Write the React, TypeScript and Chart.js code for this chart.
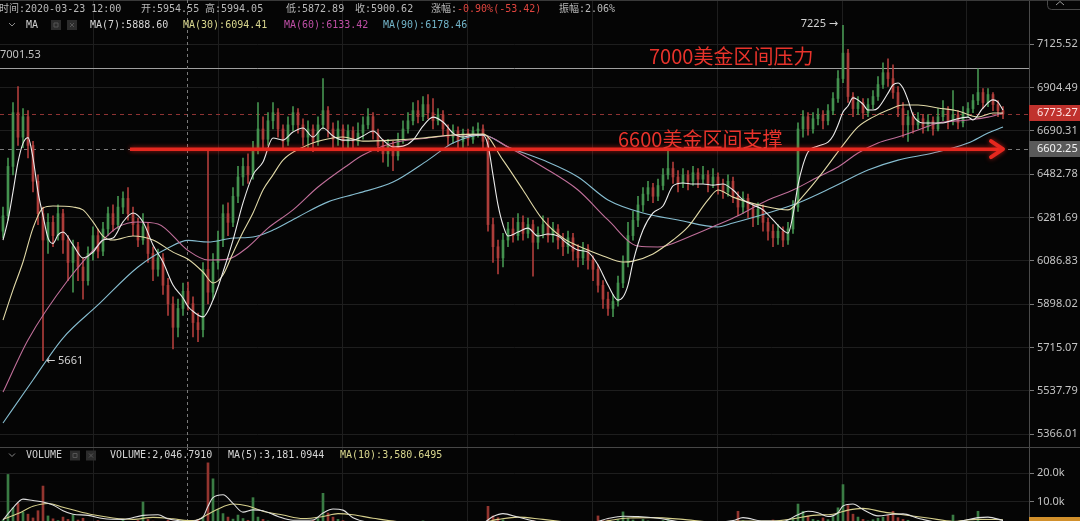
import React, { useEffect, useRef } from 'react';
import { Chart, registerables } from 'chart.js';

Chart.register(...registerables);

// ---------- candles (one entry per bar, left to right) ----------
const opens = [
  6220, 6290, 6520, 6780, 6660, 6760, 6620, 6450, 6300, 6180,
  6260, 6200, 6300, 6180, 6080, 6150, 6060, 6000, 6120, 6200,
  6130, 6230, 6300, 6250, 6330, 6370, 6300, 6250, 6180, 6240,
  6120, 6050, 6100, 5980, 5900, 5800, 5880, 5954.55, 5900.62, 5820,
  5790, 6050, 5950, 6080, 6180, 6300, 6260, 6380, 6470, 6520,
  6480, 6600, 6700, 6650, 6740, 6780, 6700, 6640, 6720, 6780,
  6720, 6660, 6700, 6640, 6720, 6790, 6700, 6650, 6700, 6640,
  6690, 6640, 6680, 6720, 6760, 6680, 6620, 6580, 6620, 6570,
  6650, 6700, 6740, 6790, 6760, 6820, 6780, 6740, 6770, 6700,
  6660, 6690, 6640, 6680, 6650, 6690, 6700, 6640, 6250, 6150,
  6100, 6180, 6230, 6200, 6260, 6210, 6250, 6170, 6210, 6250,
  6200, 6230, 6180, 6150, 6190, 6130, 6100, 6140, 6090, 6050,
  5980, 5920, 5880, 5910, 5990, 6080, 6200, 6270, 6340, 6390,
  6420, 6380, 6430, 6480, 6510, 6470, 6440, 6480, 6450, 6490,
  6460, 6480, 6440, 6470, 6430, 6400, 6450, 6380, 6330, 6370,
  6320, 6280, 6320, 6260, 6220, 6190, 6220, 6180, 6230, 6330,
  6700, 6760, 6700, 6750, 6770, 6740, 6790, 6850, 6950, 7080,
  6860, 6800, 6830, 6780, 6820, 6860, 6920, 6980, 6950, 6880,
  6800, 6720, 6760, 6720, 6750, 6710, 6740, 6700, 6760, 6790,
  6740, 6770, 6730, 6780, 6800, 6840, 6880, 6830, 6870, 6820,
  6790,
];
const highs = [
  6330, 6560, 6830, 6910, 6800, 6790, 6640, 6480, 6330, 6300,
  6290, 6340, 6320, 6200, 6180, 6170, 6100, 6150, 6240, 6230,
  6260, 6330, 6340, 6380, 6400, 6420, 6330, 6280, 6300, 6260,
  6150, 6140, 6120, 6010, 5930, 5920, 5990, 5994.05, 5930, 5860,
  6080, 6600, 6120, 6220, 6340, 6350, 6420, 6520, 6560, 6580,
  6640, 6830, 6760, 6780, 6830, 6800, 6720, 6760, 6810, 6800,
  6750, 6740, 6720, 6760, 6950, 6810, 6730, 6740, 6720, 6720,
  6710, 6730, 6760, 6800, 6780, 6700, 6650, 6650, 6640, 6680,
  6740, 6780, 6830, 6840, 6860, 6870, 6850, 6800, 6790, 6720,
  6720, 6710, 6700, 6700, 6710, 6730, 6720, 6660, 6280, 6180,
  6210, 6260, 6280, 6300, 6290, 6280, 6270, 6240, 6290, 6280,
  6260, 6250, 6210, 6220, 6210, 6160, 6170, 6160, 6110, 6070,
  6000, 5950, 5940, 6020, 6110, 6260, 6310, 6380, 6420, 6450,
  6440, 6460, 6510, 6600, 6540, 6500, 6510, 6500, 6520, 6510,
  6520, 6500, 6510, 6490, 6460, 6480, 6470, 6400, 6400, 6390,
  6340, 6350, 6340, 6280, 6250, 6250, 6240, 6260, 6360, 6730,
  6790, 6780, 6780, 6800, 6790, 6820, 6880, 6990, 7225, 7100,
  6880, 6860, 6850, 6850, 6890, 6960, 7030, 7050, 7020, 6910,
  6830, 6790, 6780, 6780, 6770, 6770, 6760, 6800, 6840, 6810,
  6890, 6790, 6810, 6830, 6870, 7000, 6900, 6900, 6880, 6840,
  6810,
];
const lows = [
  6190, 6270, 6480, 6620, 6610, 6560, 6400, 6250, 5661, 6120,
  6150, 6180, 6120, 6000, 5950, 6000, 5920, 5980, 6090, 6100,
  6110, 6200, 6220, 6230, 6300, 6270, 6200, 6150, 6160, 6080,
  6000, 6020, 5940, 5850, 5710, 5760, 5850, 5872.89, 5760, 5740,
  5760, 5900, 5920, 6050, 6150, 6200, 6240, 6350, 6430, 6440,
  6460, 6580, 6600, 6620, 6700, 6660, 6600, 6620, 6690, 6680,
  6620, 6600, 6590, 6620, 6700, 6660, 6610, 6620, 6600, 6600,
  6610, 6620, 6650, 6700, 6650, 6590, 6540, 6520, 6500, 6550,
  6630, 6680, 6720, 6730, 6740, 6750, 6700, 6720, 6670, 6620,
  6630, 6600, 6610, 6620, 6630, 6660, 6610, 6220, 6080, 6030,
  6060, 6150, 6170, 6180, 6180, 6190, 6020, 6140, 6190, 6170,
  6170, 6140, 6110, 6120, 6090, 6060, 6070, 6050, 6000, 5950,
  5880, 5850, 5845, 5890, 5970, 6060, 6180, 6240, 6310, 6360,
  6350, 6360, 6410, 6460, 6440, 6400, 6420, 6410, 6430, 6420,
  6440, 6400, 6420, 6390, 6370, 6380, 6350, 6290, 6300, 6280,
  6240, 6250, 6220, 6180, 6150, 6160, 6150, 6160, 6210, 6310,
  6660, 6670, 6680, 6720, 6700, 6720, 6770, 6830, 6930, 6830,
  6760, 6770, 6750, 6760, 6800, 6840, 6900, 6910, 6850, 6760,
  6660, 6640, 6680, 6700, 6680, 6690, 6670, 6690, 6740, 6700,
  6720, 6700, 6710, 6760, 6780, 6820, 6800, 6810, 6790, 6760,
  6750,
];
const closes = [
  6290, 6520, 6780, 6660, 6760, 6620, 6450, 6300, 6180, 6260,
  6200, 6300, 6180, 6080, 6150, 6060, 6000, 6120, 6200, 6130,
  6230, 6300, 6250, 6330, 6370, 6300, 6250, 6180, 6240, 6120,
  6050, 6100, 5980, 5900, 5800, 5880, 5954.04, 5900.62, 5820, 5790,
  6050, 5950, 6080, 6180, 6300, 6260, 6380, 6470, 6520, 6480,
  6600, 6700, 6650, 6740, 6780, 6700, 6640, 6720, 6780, 6720,
  6660, 6700, 6640, 6720, 6790, 6700, 6650, 6700, 6640, 6690,
  6640, 6680, 6720, 6760, 6680, 6620, 6580, 6620, 6570, 6650,
  6700, 6740, 6790, 6760, 6820, 6780, 6740, 6770, 6700, 6660,
  6690, 6640, 6680, 6650, 6690, 6700, 6640, 6250, 6150, 6100,
  6180, 6230, 6200, 6260, 6210, 6250, 6170, 6210, 6250, 6200,
  6230, 6180, 6150, 6190, 6130, 6100, 6140, 6090, 6050, 5980,
  5920, 5880, 5910, 5990, 6080, 6200, 6270, 6340, 6390, 6420,
  6380, 6430, 6480, 6510, 6470, 6440, 6480, 6450, 6490, 6460,
  6480, 6440, 6470, 6430, 6400, 6450, 6380, 6330, 6370, 6320,
  6280, 6320, 6260, 6220, 6190, 6220, 6180, 6230, 6330, 6700,
  6760, 6700, 6750, 6770, 6740, 6790, 6850, 6950, 7080, 6860,
  6800, 6830, 6780, 6820, 6860, 6920, 6980, 6950, 6880, 6800,
  6720, 6760, 6720, 6750, 6710, 6740, 6700, 6760, 6790, 6740,
  6770, 6730, 6780, 6800, 6840, 6880, 6830, 6870, 6820, 6790,
  6773.27,
];
const volumes = [
  3800, 19500, 8000, 9500, 6500, 5800, 4500, 7000, 15500, 5200,
  4200, 3600, 4800, 4000, 5600, 3800, 4400, 3200, 2900, 3600,
  3000, 2600, 3300, 2900, 3900, 3100, 2700, 3700, 10000, 4000,
  3400, 2900, 3200, 3800, 3400, 3000, 3700, 2046.791, 3300, 3900,
  4800, 23500, 18000, 7500, 6000, 4800, 4100, 5500, 4300, 3700,
  11500, 4800, 4000, 3500, 3200, 2800, 3400, 2700, 3000, 2800,
  3200, 2600, 3700, 4300, 13000, 6200, 4800, 4000, 3600, 3000,
  2800, 2600, 3000, 2400, 2700, 3200, 2200, 2800, 3400, 2600,
  2400, 2800, 3100, 2700, 3500, 3000, 2700, 2300, 2900, 2500,
  2200, 2700, 2400, 2000, 2300, 2600, 3200, 8500, 5200, 4600,
  3900, 3300, 2800, 3200, 2700, 2900, 3600, 2700, 2500, 2800,
  2400, 2700, 2300, 2600, 2800, 2500, 2200, 2700, 2900, 5200,
  3600, 3800, 3200, 4000, 6600, 4400, 3800, 3300, 4000, 3500,
  3200, 2900, 3600, 4200, 3400, 2800, 2600, 3000, 2700, 2400,
  2800, 2500, 2900, 2600, 2800, 3200, 3000, 6800, 3600, 2900,
  2700, 3100, 2600, 3300, 3800, 2900, 3200, 3500, 4500, 9300,
  6800, 5200, 4000, 3700, 4500, 3900, 5000, 8000, 16000, 8800,
  5800, 4800, 4000, 3500, 3900, 4400, 4800, 5400, 6800, 4600,
  4000, 3700, 3200, 2800, 3000, 2700, 2600, 3200, 2900, 2700,
  5500, 3000, 2700, 2800, 3400, 6800, 3200, 2900, 2600, 2400,
  2100,
];

// ---------- moving averages as [bar index, value] ----------
const ma7 = [
  [0, 6180], [1, 6270], [2, 6400], [3, 6540], [4, 6630], [5, 6658], [6, 6560], [7, 6400], [8, 6290], [9, 6190],
  [10, 6165], [11, 6203], [12, 6216], [14, 6158], [16, 6100], [18, 6126], [20, 6180], [22, 6189], [24, 6262],
  [26, 6303], [28, 6262], [30, 6158], [32, 6082], [34, 5981], [36, 5925], [37, 5888.6], [38, 5868], [40, 5844],
  [42, 5916], [44, 6038], [46, 6180], [48, 6349], [50, 6480], [52, 6541], [54, 6656], [56, 6646], [58, 6685],
  [60, 6705], [62, 6661], [64, 6705], [66, 6666], [68, 6646], [70, 6646], [72, 6666], [74, 6690], [76, 6646],
  [78, 6613], [80, 6617], [82, 6646], [84, 6714], [86, 6758], [88, 6734], [90, 6680], [92, 6661], [94, 6671],
  [96, 6671], [97, 6622], [98, 6480], [99, 6340], [100, 6248], [101, 6198], [103, 6216], [105, 6234], [107, 6198],
  [109, 6207], [111, 6198], [113, 6162], [115, 6135], [117, 6126], [119, 6069], [121, 5981], [123, 5916],
  [124, 5929], [125, 5981], [126, 6082], [128, 6225], [130, 6303], [132, 6335], [134, 6428], [136, 6442],
  [138, 6437], [140, 6437], [142, 6432], [144, 6437], [146, 6409], [148, 6363], [150, 6340], [152, 6317],
  [154, 6271], [156, 6225], [157, 6211], [158, 6294], [159, 6432], [160, 6527], [161, 6589], [163, 6617],
  [165, 6636], [166, 6666], [167, 6719], [168, 6783], [169, 6813], [170, 6853], [172, 6822], [173, 6793],
  [174, 6793], [175, 6803], [177, 6877], [178, 6918], [179, 6928], [180, 6903], [181, 6843], [182, 6768],
  [184, 6729], [188, 6729], [190, 6744], [193, 6758], [194, 6744], [196, 6803], [198, 6843], [199, 6832], [200, 6793],
];
const ma30 = [
  [0, 5831], [2, 5960], [4, 6082], [6, 6234], [8, 6326], [10, 6335], [14, 6330], [16, 6317], [18, 6262],
  [20, 6198], [22, 6180], [26, 6198], [30, 6180], [34, 6126], [37, 6094.41], [40, 6038], [42, 5990], [44, 6025],
  [46, 6122], [48, 6216], [50, 6303], [52, 6409], [54, 6480], [56, 6550], [60, 6612], [64, 6646], [68, 6661],
  [72, 6641], [78, 6646], [84, 6656], [90, 6671], [96, 6675], [100, 6550], [104, 6409], [108, 6271], [112, 6189],
  [116, 6144], [120, 6109], [124, 6082], [126, 6086], [130, 6118], [134, 6180], [137, 6239], [141, 6363],
  [143, 6409], [146, 6376], [153, 6330], [157, 6317], [160, 6381], [164, 6494], [168, 6622], [171, 6710],
  [174, 6758], [177, 6793], [180, 6818], [183, 6818], [187, 6803], [191, 6788], [195, 6758], [198, 6778], [200, 6778],
];
const ma60 = [
  [0, 5533], [5, 5747], [13, 6003], [20, 6180], [23, 6239], [27, 6262], [31, 6253], [37, 6133.42], [41, 6091],
  [45, 6095], [49, 6149], [53, 6234], [58, 6317], [63, 6423], [69, 6527], [72, 6574], [78, 6632], [85, 6656],
  [91, 6671], [96, 6671], [101, 6613], [108, 6517], [115, 6409], [121, 6271], [127, 6153], [131, 6149],
  [137, 6193], [143, 6250], [147, 6290], [153, 6363], [158, 6409], [163, 6470], [167, 6517], [171, 6584],
  [175, 6632], [179, 6661], [183, 6695], [187, 6729], [193, 6744], [197, 6758], [200, 6778],
];
const ma90 = [
  [0, 5410], [6, 5582], [12, 5755], [19, 5895], [27, 6060], [33, 6144], [37, 6178.46], [41, 6171], [46, 6189],
  [50, 6194], [54, 6225], [59, 6285], [65, 6354], [71, 6394], [78, 6446], [85, 6550], [90, 6632], [96, 6671],
  [101, 6613], [108, 6550], [115, 6470], [121, 6363], [128, 6303], [135, 6271], [143, 6239], [146, 6257],
  [153, 6303], [159, 6349], [166, 6423], [173, 6503], [179, 6550], [186, 6584], [193, 6632], [197, 6680], [200, 6710],
];
const volMa5 = [
  [0, 3800], [2, 8000], [4, 11000], [6, 10500], [8, 10000], [10, 9000], [12, 7000], [14, 5800], [17, 5400],
  [20, 4300], [24, 4000], [28, 5400], [31, 5600], [33, 4200], [35, 3600], [37, 3181.0944], [39, 3900], [40, 4800],
  [41, 8500], [42, 11500], [44, 12500], [46, 9500], [48, 6500], [50, 7300], [52, 7000], [55, 5000], [58, 3700],
  [62, 3800], [64, 6200], [66, 7600], [68, 7200], [70, 4600], [74, 3000], [80, 3000], [86, 3100], [92, 2700],
  [96, 2900], [98, 5000], [100, 6000], [103, 4800], [107, 3200], [113, 2800], [118, 3000], [121, 4300],
  [124, 5100], [127, 5000], [131, 4400], [135, 3300], [140, 2900], [146, 3600], [148, 4600], [152, 3400],
  [156, 3300], [159, 5600], [161, 6800], [163, 6300], [165, 5000], [167, 6300], [168, 8600], [170, 9300],
  [172, 7400], [175, 5200], [178, 5800], [180, 5900], [183, 4400], [187, 3100], [191, 3300], [195, 4600],
  [197, 4800], [200, 3600],
];
const volMa10 = [
  [0, 4000], [3, 6000], [6, 8500], [9, 9500], [12, 8200], [15, 6800], [18, 5600], [22, 4500], [26, 4000],
  [30, 4700], [34, 4200], [37, 3580.6495], [39, 3900], [41, 5800], [43, 7600], [46, 9300], [49, 8600],
  [52, 6800], [56, 5500], [60, 4300], [64, 5000], [67, 6000], [70, 5600], [74, 4400], [80, 3100], [88, 2900],
  [95, 2800], [99, 4000], [103, 4800], [108, 4000], [114, 3000], [120, 3300], [125, 4500], [130, 4600],
  [136, 4000], [142, 3100], [148, 3400], [154, 3400], [158, 4200], [162, 5400], [166, 5800], [169, 7200],
  [172, 7800], [176, 6600], [180, 5600], [185, 4500], [190, 3300], [195, 4000], [200, 3900],
];

// ---------- axes, levels and notes ----------
const priceTicks = [7125.52, 6904.49, 6690.31, 6482.78, 6281.69, 6086.83, 5898.02, 5715.07, 5537.79, 5366.01];
const volumeTicks = [10000, 20000];
const timeGridLines = [5.6, 30.6, 55.4, 80.2, 105.4, 130.2, 155.4, 180.2];
const selectedTime = '2020-03-23 12:00';
const selectedIndex = 37;
const lastPrice = 6773.27;
const supportPrice = 6602.25;
const resistancePrice = 7001.53;
const supportNote = '6600美金区间支撑';
const resistanceNote = '7000美金区间压力';
const supportNoteAt = 123;
const resistanceNoteAt = 129.2;
const arrowFrom = 25.4;
const arrowTo = 200;
const peakIndex = 168;
const troughIndex = 8;

const PRICE_MIN = 5316.5;
const PRICE_MAX = 7358.8;
const VOL_MIN = 3448;
const VOL_MAX = 28966;
const X_MIN = -0.6;
const X_MAX = 205.2;
const AXIS_W = 51;

const UP = '#44924f';
const DOWN = '#ad3d3a';
const VOL_UP = '#3a7c44';
const VOL_DOWN = '#93352f';
const BG = '#050505';
const GRID = '#1e1e1e';
const MONO = '10px "DejaVu Sans Mono", "Noto Sans CJK SC", monospace';
const SANS = '"Noto Sans", "DejaVu Sans", sans-serif';

const candleColors = closes.map((c, i) => (c >= opens[i] ? UP : DOWN));
const volumeColors = closes.map((c, i) => (c >= opens[i] ? VOL_UP : VOL_DOWN));
const toXY = (pts: number[][]) => pts.map(([x, y]) => ({ x, y }));
const at = (pts: number[][], i: number) => (pts.find((p) => p[0] === i) as number[])[1];

function hLine(ctx: CanvasRenderingContext2D, x0: number, x1: number, y: number, color: string, dash: number[]) {
  ctx.save();
  ctx.strokeStyle = color;
  ctx.lineWidth = 1;
  ctx.setLineDash(dash);
  ctx.beginPath();
  ctx.moveTo(x0, y);
  ctx.lineTo(x1, y);
  ctx.stroke();
  ctx.restore();
}

function vLine(ctx: CanvasRenderingContext2D, x: number, y0: number, y1: number, color: string, dash: number[]) {
  ctx.save();
  ctx.strokeStyle = color;
  ctx.lineWidth = 1;
  ctx.setLineDash(dash);
  ctx.beginPath();
  ctx.moveTo(x, y0);
  ctx.lineTo(x, y1);
  ctx.stroke();
  ctx.restore();
}

function text(ctx: CanvasRenderingContext2D, s: string, x: number, y: number, color: string, font: string, align: CanvasTextAlign = 'left') {
  ctx.save();
  ctx.font = font;
  ctx.fillStyle = color;
  ctx.textAlign = align;
  ctx.textBaseline = 'middle';
  ctx.fillText(s, x, y);
  ctx.restore();
}

// small collapse chevron and the two square toggle buttons in each panel header
function headerIcons(ctx: CanvasRenderingContext2D, y: number, boxX: number[]) {
  ctx.save();
  ctx.strokeStyle = '#8a8a8a';
  ctx.lineWidth = 1;
  ctx.beginPath();
  ctx.moveTo(9, y - 2);
  ctx.lineTo(12, y + 1);
  ctx.lineTo(15, y - 2);
  ctx.stroke();
  boxX.forEach((bx, k) => {
    ctx.fillStyle = '#2c2c2c';
    ctx.fillRect(bx, y - 5, 10, 10);
    ctx.strokeStyle = '#555';
    ctx.beginPath();
    if (k === 0) {
      ctx.rect(bx + 3, y - 2, 4, 4);
    } else {
      ctx.moveTo(bx + 3, y - 2);
      ctx.lineTo(bx + 7, y + 2);
      ctx.moveTo(bx + 7, y - 2);
      ctx.lineTo(bx + 3, y + 2);
    }
    ctx.stroke();
  });
  ctx.restore();
}

function axisBox(ctx: CanvasRenderingContext2D, left: number, y: number, bg: string, fg: string, label: string) {
  ctx.save();
  ctx.fillStyle = bg;
  ctx.fillRect(left, Math.round(y) - 8, AXIS_W, 16);
  ctx.restore();
  if (label) text(ctx, label, left + 8, y, fg, `11px ${SANS}`);
}

const xAxis = () => ({
  type: 'linear',
  min: X_MIN,
  max: X_MAX,
  offset: false,
  grid: { color: GRID, drawTicks: false },
  border: { display: false },
  ticks: { display: false },
  afterBuildTicks: (s: any) => {
    s.ticks = timeGridLines.map((v) => ({ value: v }));
  },
  afterFit: (s: any) => {
    s.height = 0;
    s.paddingLeft = 0;
    s.paddingRight = 0;
  },
});

const fmt2 = (v: number) => v.toFixed(2);
const fmtVol = (v: number) => v.toLocaleString('en-US', { minimumFractionDigits: 4, maximumFractionDigits: 4 });

const priceOverlay = {
  id: 'priceOverlay',
  beforeDatasetsDraw(chart: any) {
    const { ctx, chartArea: a, scales } = chart;
    const x = scales.x;
    const y = scales.y;
    hLine(ctx, 0, 1080, 0.5, '#3a3a3a', []);
    hLine(ctx, a.left, a.right, Math.round(y.getPixelForValue(resistancePrice)) + 0.5, '#a0a0a0', []);
    hLine(ctx, a.left, a.right, Math.round(y.getPixelForValue(lastPrice)) + 0.5, '#8e3333', [4, 4]);
    hLine(ctx, a.left, a.right, Math.round(y.getPixelForValue(supportPrice)) + 0.5, '#7a7a7a', [4, 4]);
    vLine(ctx, Math.floor(x.getPixelForValue(selectedIndex)) - 0.5, 0, a.bottom, '#7a7a7a', [3, 3]);
  },
  afterDatasetsDraw(chart: any) {
    const { ctx, scales } = chart;
    const x = scales.x;
    const y = scales.y;

    // support arrow
    const ya = y.getPixelForValue(supportPrice);
    const x0 = x.getPixelForValue(arrowFrom);
    const x1 = x.getPixelForValue(arrowTo);
    ctx.save();
    ctx.strokeStyle = '#e5281f';
    ctx.shadowColor = 'rgba(255,40,30,0.65)';
    ctx.shadowBlur = 5;
    ctx.lineWidth = 3.5;
    ctx.beginPath();
    ctx.moveTo(x0, ya);
    ctx.lineTo(x1 - 3, ya);
    ctx.stroke();
    ctx.lineWidth = 4;
    ctx.lineCap = 'round';
    ctx.lineJoin = 'round';
    ctx.beginPath();
    ctx.moveTo(x1 - 12, ya - 8);
    ctx.lineTo(x1, ya);
    ctx.lineTo(x1 - 12, ya + 8);
    ctx.stroke();
    ctx.restore();

    // level notes
    const noteFont = '20px "Noto Sans CJK SC", sans-serif';
    ctx.save();
    ctx.font = noteFont;
    ctx.fillStyle = '#e8332b';
    ctx.textBaseline = 'alphabetic';
    ctx.fillText(supportNote, x.getPixelForValue(supportNoteAt), ya - 2.5);
    ctx.fillText(resistanceNote, x.getPixelForValue(resistanceNoteAt), y.getPixelForValue(resistancePrice) - 4);
    ctx.restore();

    // extreme markers
    const px = x.getPixelForValue(peakIndex);
    text(ctx, `${Math.round(highs[peakIndex])} →`, px - 5, y.getPixelForValue(highs[peakIndex]) - 1, '#d2d2d2', `11px ${SANS}`, 'right');
    const tx = x.getPixelForValue(troughIndex);
    text(ctx, `← ${Math.round(lows[troughIndex])}`, tx + 3, y.getPixelForValue(lows[troughIndex]), '#d2d2d2', `11px ${SANS}`);
  },
  afterDraw(chart: any) {
    const { ctx, chartArea: a, scales } = chart;
    const y = scales.y;
    const i = selectedIndex;

    text(ctx, resistancePrice.toFixed(2), 0, 55, '#c2c2c2', `11px ${SANS}`);

    axisBox(ctx, a.right, y.getPixelForValue(lastPrice) - 1, '#c0322d', '#ffe4e4', lastPrice.toFixed(2));
    axisBox(ctx, a.right, y.getPixelForValue(supportPrice), '#5a5a5a', '#f2f2f2', supportPrice.toFixed(2));

    // header line 1: selected bar
    const change = closes[i] - closes[i - 1];
    const pct = (change / closes[i - 1]) * 100;
    const amp = ((highs[i] - lows[i]) / lows[i]) * 100;
    const grey = '#b9b9b9';
    text(ctx, `时间:${selectedTime}`, -1, 9, grey, MONO);
    text(ctx, `开:${fmt2(opens[i])}`, 141, 9, grey, MONO);
    text(ctx, `高:${fmt2(highs[i])}`, 205, 9, grey, MONO);
    text(ctx, `低:${fmt2(lows[i])}`, 286, 9, grey, MONO);
    text(ctx, `收:${fmt2(closes[i])}`, 355, 9, grey, MONO);
    ctx.save();
    ctx.font = MONO;
    const lw = ctx.measureText('涨幅:').width;
    ctx.restore();
    text(ctx, '涨幅:', 431, 9, grey, MONO);
    text(ctx, `${pct.toFixed(2)}%(${change.toFixed(2)})`, 431 + lw, 9, '#e0453f', MONO);
    text(ctx, `振幅:${amp.toFixed(2)}%`, 559, 9, grey, MONO);

    // header line 2: moving averages
    headerIcons(ctx, 25, [51, 67]);
    text(ctx, 'MA', 26, 25, '#cfcfcf', MONO);
    text(ctx, `MA(7):${fmt2(at(ma7, i))}`, 90, 25, '#d6d6d6', MONO);
    text(ctx, `MA(30):${fmt2(at(ma30, i))}`, 183, 25, '#d8d68e', MONO);
    text(ctx, `MA(60):${fmt2(at(ma60, i))}`, 284, 25, '#bf4fa6', MONO);
    text(ctx, `MA(90):${fmt2(at(ma90, i))}`, 383, 25, '#72b4c8', MONO);

    // collapse button on the axis
    ctx.save();
    ctx.strokeStyle = '#4a4a4a';
    ctx.lineWidth = 1;
    ctx.beginPath();
    ctx.roundRect(1047.5, -6.5, 40, 16, 4);
    ctx.stroke();
    ctx.strokeStyle = '#9a9a9a';
    ctx.beginPath();
    ctx.moveTo(1056, 5);
    ctx.lineTo(1060, 1.5);
    ctx.lineTo(1064, 5);
    ctx.stroke();
    ctx.restore();
  },
};

const volumeOverlay = {
  id: 'volumeOverlay',
  beforeDatasetsDraw(chart: any) {
    const { ctx, chartArea: a, scales } = chart;
    vLine(ctx, Math.floor(scales.x.getPixelForValue(selectedIndex)) - 0.5, 0, a.bottom, '#7a7a7a', [3, 3]);
  },
  afterDraw(chart: any) {
    const { ctx, chartArea: a, scales } = chart;
    const i = selectedIndex;
    hLine(ctx, 0, 1080, 0.5, '#474747', []);
    headerIcons(ctx, 8.5, [70, 86]);
    text(ctx, 'VOLUME', 26, 8.5, '#cfcfcf', MONO);
    text(ctx, `VOLUME:${fmtVol(volumes[i])}`, 110, 8.5, '#d6d6d6', MONO);
    text(ctx, `MA(5):${fmtVol(at(volMa5, i))}`, 228, 8.5, '#d6d6d6', MONO);
    text(ctx, `MA(10):${fmtVol(at(volMa10, i))}`, 340, 8.5, '#d8d68e', MONO);
    axisBox(ctx, a.right, scales.y.getPixelForValue(volumes[volumes.length - 1]), '#d1902c', '#111', '');
  },
};

function lineSet(label: string, pts: number[][], color: string) {
  return {
    type: 'line',
    label,
    data: toXY(pts),
    borderColor: color,
    borderWidth: 1.1,
    pointRadius: 0,
    cubicInterpolationMode: 'monotone',
    order: 0,
  };
}

export default function App() {
  const priceRef = useRef<HTMLCanvasElement>(null);
  const volRef = useRef<HTMLCanvasElement>(null);

  useEffect(() => {
    Chart.defaults.font.family = SANS;

    const price = new Chart(priceRef.current as HTMLCanvasElement, {
      type: 'bar',
      data: {
        datasets: [
          lineSet('MA(7)', ma7, '#ececec'),
          lineSet('MA(30)', ma30, '#e2daa8'),
          lineSet('MA(60)', ma60, '#c06f9a'),
          lineSet('MA(90)', ma90, '#86bdd0'),
          {
            type: 'bar',
            label: 'body',
            data: opens.map((o, i) => ({ x: i, y: [o, closes[i]] })),
            backgroundColor: candleColors,
            barThickness: 2,
            grouped: false,
            order: 5,
          },
          {
            type: 'bar',
            label: 'wick',
            data: lows.map((l, i) => ({ x: i, y: [l, highs[i]] })),
            backgroundColor: candleColors,
            barThickness: 1,
            grouped: false,
            order: 6,
          },
        ] as any,
      },
      options: {
        responsive: false,
        animation: false,
        events: [],
        layout: { padding: 0 },
        plugins: { legend: { display: false }, tooltip: { enabled: false } },
        scales: {
          x: xAxis() as any,
          y: {
            type: 'logarithmic',
            position: 'right',
            min: PRICE_MIN,
            max: PRICE_MAX,
            bounds: 'data',
            grid: { color: GRID, tickColor: '#7a7a7a', tickLength: 5 },
            border: { display: true, color: '#4a4a4a' },
            ticks: {
              color: '#c4c4c4',
              font: { size: 11, family: SANS },
              padding: 3,
              autoSkip: false,
              callback: (v: any) => Number(v).toFixed(2),
            },
            afterBuildTicks: (s: any) => {
              s.ticks = priceTicks.map((v) => ({ value: v }));
            },
            afterFit: (s: any) => {
              s.width = AXIS_W;
              s.paddingTop = 0;
              s.paddingBottom = 0;
            },
          } as any,
        },
      },
      plugins: [priceOverlay],
    });

    const vol = new Chart(volRef.current as HTMLCanvasElement, {
      type: 'bar',
      data: {
        datasets: [
          lineSet('MA(5)', volMa5, '#e0e0e0'),
          lineSet('MA(10)', volMa10, '#d6cf8c'),
          {
            type: 'bar',
            label: 'VOLUME',
            data: volumes.map((v, i) => ({ x: i, y: v })),
            backgroundColor: volumeColors,
            barThickness: 2,
            grouped: false,
            order: 5,
          },
        ] as any,
      },
      options: {
        responsive: false,
        animation: false,
        events: [],
        layout: { padding: 0 },
        plugins: { legend: { display: false }, tooltip: { enabled: false } },
        scales: {
          x: xAxis() as any,
          y: {
            type: 'linear',
            position: 'right',
            min: VOL_MIN,
            max: VOL_MAX,
            bounds: 'data',
            grid: { color: GRID, tickColor: '#7a7a7a', tickLength: 5 },
            border: { display: true, color: '#4a4a4a' },
            ticks: {
              color: '#c4c4c4',
              font: { size: 11, family: SANS },
              padding: 3,
              autoSkip: false,
              callback: (v: any) => `${(Number(v) / 1000).toFixed(1)}k`,
            },
            afterBuildTicks: (s: any) => {
              s.ticks = volumeTicks.map((v) => ({ value: v }));
            },
            afterFit: (s: any) => {
              s.width = AXIS_W;
              s.paddingTop = 0;
              s.paddingBottom = 0;
            },
          } as any,
        },
      },
      plugins: [volumeOverlay],
    });

    return () => {
      price.destroy();
      vol.destroy();
    };
  }, []);

  return (
    <div style={{ position: 'fixed', left: 0, top: 0, width: 1080, height: 521, background: BG, overflow: 'hidden' }}>
      <canvas ref={priceRef} width={1080} height={447} style={{ position: 'absolute', left: 0, top: 0, display: 'block' }} />
      <canvas ref={volRef} width={1080} height={74} style={{ position: 'absolute', left: 0, top: 447, display: 'block' }} />
    </div>
  );
}
